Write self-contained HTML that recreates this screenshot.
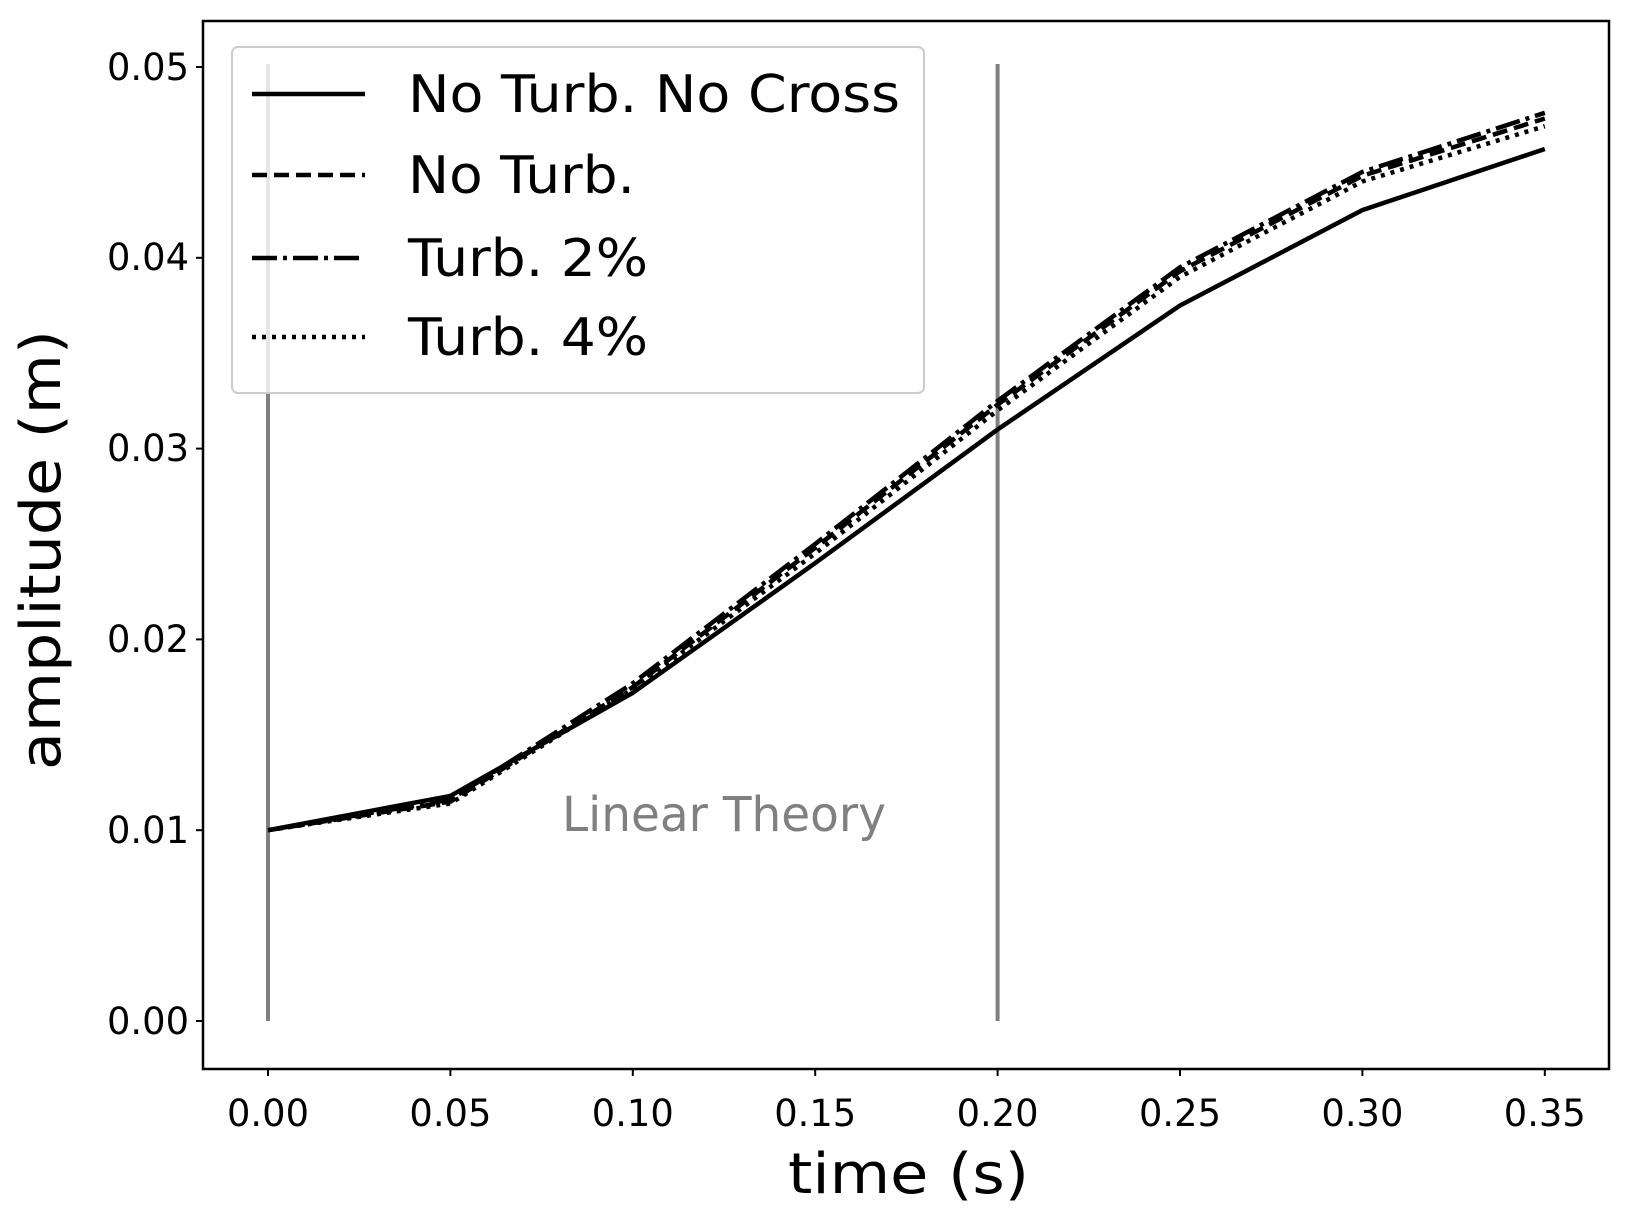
<!DOCTYPE html>
<html><head><style>body{margin:0;background:#fff}svg{display:block}text{font-family:"DejaVu Sans","Liberation Sans",sans-serif}</style></head>
<body>
<svg width="1633" height="1222" viewBox="0 0 1633 1222" xmlns="http://www.w3.org/2000/svg">
<rect width="1633" height="1222" fill="#fff"/>
<line x1="268" y1="1021" x2="268" y2="64" stroke="#808080" stroke-width="4"/>
<line x1="997.6" y1="1021" x2="997.6" y2="64" stroke="#808080" stroke-width="4"/>
<text x="562" y="831" font-size="48" fill="#808080" textLength="324" lengthAdjust="spacingAndGlyphs">Linear Theory</text>
<g fill="none" stroke="#000" stroke-width="4.5">
<polyline points="268,830.2 450.4,795.9 632.8,692.8 815.2,563.1 997.6,429.5 1180,305.5 1362.4,210.1 1544.8,149"/>
<polyline stroke-dasharray="15,7" points="268,830.2 450.4,801.6 632.8,687.1 815.2,547.8 997.6,404.7 1180,271.2 1362.4,175.8 1544.8,118.5"/>
<polyline stroke-dasharray="25,6,4,6" points="268,830.2 450.4,799.7 632.8,683.3 815.2,544 997.6,400.9 1180,267.3 1362.4,171.9 1544.8,112.8"/>
<polyline stroke-dasharray="4,6" points="268,830.2 450.4,803.5 632.8,689 815.2,553.5 997.6,410.4 1180,276.9 1362.4,181.5 1544.8,126.2"/>
</g>
<rect x="203" y="21" width="1406" height="1048" fill="none" stroke="#000" stroke-width="2.5"/>
<g stroke="#000" stroke-width="2">
<line x1="196" y1="1021" x2="203" y2="1021"/><line x1="196" y1="830.2" x2="203" y2="830.2"/><line x1="196" y1="639.4" x2="203" y2="639.4"/><line x1="196" y1="448.6" x2="203" y2="448.6"/><line x1="196" y1="257.8" x2="203" y2="257.8"/><line x1="196" y1="67" x2="203" y2="67"/>
<line x1="268" y1="1069" x2="268" y2="1076"/><line x1="450.4" y1="1069" x2="450.4" y2="1076"/><line x1="632.8" y1="1069" x2="632.8" y2="1076"/><line x1="815.2" y1="1069" x2="815.2" y2="1076"/><line x1="997.6" y1="1069" x2="997.6" y2="1076"/><line x1="1180" y1="1069" x2="1180" y2="1076"/><line x1="1362.4" y1="1069" x2="1362.4" y2="1076"/><line x1="1544.8" y1="1069" x2="1544.8" y2="1076"/>
</g>
<g font-size="37" fill="#000">
<text x="107" y="1034" textLength="82" lengthAdjust="spacingAndGlyphs">0.00</text>
<text x="107" y="843" textLength="82" lengthAdjust="spacingAndGlyphs">0.01</text>
<text x="107" y="652" textLength="82" lengthAdjust="spacingAndGlyphs">0.02</text>
<text x="107" y="461" textLength="82" lengthAdjust="spacingAndGlyphs">0.03</text>
<text x="107" y="270" textLength="82" lengthAdjust="spacingAndGlyphs">0.04</text>
<text x="107" y="80" textLength="82" lengthAdjust="spacingAndGlyphs">0.05</text>
<text x="227" y="1126" textLength="82" lengthAdjust="spacingAndGlyphs">0.00</text>
<text x="409.4" y="1126" textLength="82" lengthAdjust="spacingAndGlyphs">0.05</text>
<text x="591.8" y="1126" textLength="82" lengthAdjust="spacingAndGlyphs">0.10</text>
<text x="774.2" y="1126" textLength="82" lengthAdjust="spacingAndGlyphs">0.15</text>
<text x="956.6" y="1126" textLength="82" lengthAdjust="spacingAndGlyphs">0.20</text>
<text x="1139" y="1126" textLength="82" lengthAdjust="spacingAndGlyphs">0.25</text>
<text x="1321.4" y="1126" textLength="82" lengthAdjust="spacingAndGlyphs">0.30</text>
<text x="1503.8" y="1126" textLength="82" lengthAdjust="spacingAndGlyphs">0.35</text>
</g>
<text x="788" y="1193" font-size="56" textLength="241" lengthAdjust="spacingAndGlyphs">time (s)</text>
<text transform="translate(60,550) rotate(-90)" x="-220" y="0" font-size="56" textLength="440" lengthAdjust="spacingAndGlyphs">amplitude (m)</text>
<rect x="232" y="47" width="692" height="346" rx="6" fill="#fff" fill-opacity="0.8" stroke="#ccc" stroke-width="2"/>
<g stroke="#000" stroke-width="4.5">
<line x1="252" y1="94" x2="365" y2="94"/>
<line x1="252" y1="175" x2="365" y2="175" stroke-dasharray="15,7"/>
<line x1="252" y1="258" x2="365" y2="258" stroke-dasharray="25,6,4,6"/>
<line x1="252" y1="337" x2="365" y2="337" stroke-dasharray="4,6"/>
</g>
<g font-size="52" fill="#000">
<text x="408" y="112" textLength="492" lengthAdjust="spacingAndGlyphs">No Turb. No Cross</text>
<text x="408" y="193" textLength="227" lengthAdjust="spacingAndGlyphs">No Turb.</text>
<text x="408" y="276" textLength="240" lengthAdjust="spacingAndGlyphs">Turb. 2%</text>
<text x="408" y="355" textLength="240" lengthAdjust="spacingAndGlyphs">Turb. 4%</text>
</g>
</svg>
</body></html>
